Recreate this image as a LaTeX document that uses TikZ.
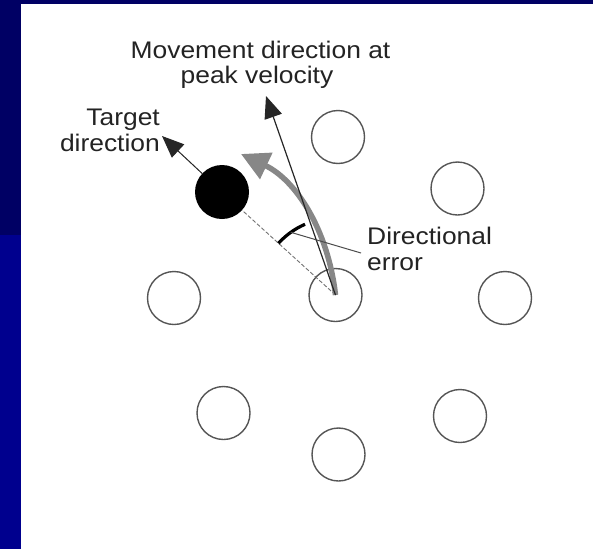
\documentclass[tikz,border=0pt]{standalone}
\usepackage{fontspec}
\setmainfont{Liberation Sans}
\newfontfamily\labfont[FakeStretch=1.1]{Liberation Sans}
\usetikzlibrary{arrows.meta}
\definecolor{navydark}{RGB}{0,0,100}
\definecolor{navylight}{RGB}{0,0,142}
\definecolor{ringgray}{RGB}{85,85,85}
\definecolor{arrowgray}{RGB}{135,135,135}
\definecolor{txt}{RGB}{35,35,35}
\begin{document}
\begin{tikzpicture}[x=1pt,y=-1pt,
  target/.style={circle,draw=ringgray,line width=1.4pt,minimum size=53pt,inner sep=0pt},
  hit/.style={circle,fill=black,minimum size=54pt,inner sep=0pt},
  lab/.style={inner sep=0pt,font=\labfont\fontsize{24}{26}\selectfont,text=txt},
  thinline/.style={draw=black!85,line width=1.2pt},
  tiphead/.style={-{Triangle[length=22pt,width=18pt]}},
]
\useasboundingbox (0,0) rectangle (593,549);
\fill[navylight] (0,0) rectangle (593,549);
\fill[navydark] (0,0) rectangle (593,3.5);
\fill[navydark] (0,0) rectangle (21,235);
\fill[white] (21,3.5) rectangle (593,549);

% targets
\node[target] (c)  at (335.5,295) {};
\node[target] (n)  at (338,137) {};
\node[target] (ne) at (457.5,188.5) {};
\node[target] (e)  at (505,298) {};
\node[target] (se) at (460,416) {};
\node[target] (s)  at (338.5,454.5) {};
\node[target] (sw) at (223.5,413) {};
\node[target] (w)  at (174,298) {};
\node[hit] (tgt) at (222,192) {};

% free ends
\coordinate (ttip) at (162,136);
\coordinate (mtip) at (266,96);
\coordinate (gtip) at (241,154);
\coordinate (errL) at (361,253);
\coordinate (errM) at ([shift={(-125.5:77)}]c.center);

% target direction
\draw[draw=black!55,line width=0.9pt,dash pattern=on 4pt off 2pt] (c.center) -- (tgt);
\draw[thinline,line width=1pt,tiphead] (tgt) -- (ttip);

% curved movement (gray)
\draw[draw=arrowgray,line width=5.5pt,-{Triangle[length=28pt,width=28pt,fill=arrowgray]}]
  (c.center) .. controls (328,230) and (296,180) .. (gtip);

% movement direction at peak velocity
\draw[thinline,tiphead] (c.center) -- (mtip);

% directional error arc and leader
\draw[black,line width=3.2pt] ([shift={(-137.8:77)}]c.center) arc[start angle=-137.8,end angle=-113.3,radius=77];
\draw[draw=black!70,line width=1pt] (errM) -- (errL);

% labels
\node[lab,anchor=base] (m1) at (260.5,58) {Movement direction at};
\node[lab,anchor=base] (m2) at (257,83) {peak velocity};
\node[lab,anchor=base east] (t1) at (160,125) {Target};
\node[lab,anchor=base east] (t2) at (160,151) {direction};
\node[lab,anchor=base west] (d1) at (367,244) {Directional};
\node[lab,anchor=base west] (d2) at (367,270) {error};
\end{tikzpicture}
\end{document}
